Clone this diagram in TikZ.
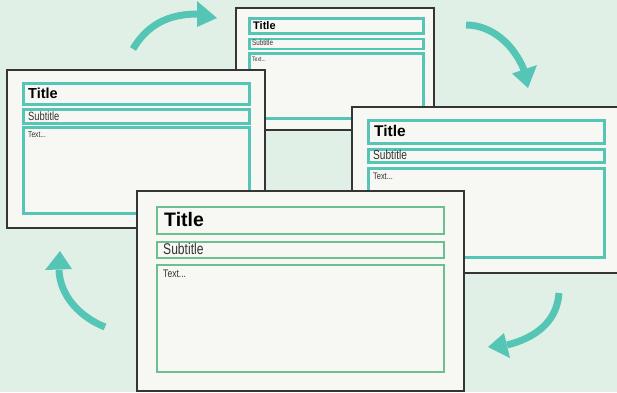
\documentclass[tikz,border=0pt]{standalone}
\usepackage{fontspec}
\setmainfont{Liberation Sans}
\newfontfamily\condfont[FakeStretch=0.78]{Liberation Sans}
\definecolor{bgmint}{HTML}{E1F0E6}
\definecolor{cardfill}{HTML}{F7F7F3}
\definecolor{cardline}{HTML}{353535}
\definecolor{tealc}{HTML}{55C6B5}
\definecolor{greenc}{HTML}{6CBF8E}
\tikzset{
  card/.style={draw=cardline, fill=cardfill, line width=2pt, inner sep=0pt},
  tealbox/.style={draw=tealc, line width=2.5pt, inner sep=0pt},
  greenbox/.style={draw=greenc, line width=2.8pt, inner sep=0pt},
  ttl/.style={anchor=base west, inner sep=0pt, font=\bfseries},
  sub/.style={anchor=base west, inner sep=0pt, text=black!80, font=\condfont},
  cyc/.style={draw=tealc, line width=7pt},
  head/.style={fill=tealc},
}
\newcommand\rbox[6]{\node[#6, anchor=north west, minimum width={(#4)-(#2)}, minimum height={(#5)-(#3)}] (#1) at (#2,#3) {};}
\begin{document}
\begin{tikzpicture}[x=1pt,y=-1pt]
\fill[bgmint] (0,0) rectangle (617,392);
\useasboundingbox (0,0) rectangle (617,392);
% card 1 (back, top)
\rbox{c1}{235}{7}{433}{129}{card}
\rbox{c1t}{248}{17}{422}{32}{tealbox}
\rbox{c1s}{248}{37.5}{422}{47.5}{tealbox}
\rbox{c1x}{248}{52}{422}{117}{tealbox}
\node[ttl, font=\fontsize{11}{13}\selectfont\bfseries] (c1tt) at (253,29) {Title};
\node[sub, font=\fontsize{8}{9}\condfont] (c1st) at (252,45.5) {Subtitle};
\node[sub, font=\fontsize{6.5}{7}\condfont] (c1xt) at (252,61) {Text...};
% card 2 (left)
\rbox{c2}{6}{69}{264}{227}{card}
\rbox{c2t}{22}{82}{248}{103}{tealbox}
\rbox{c2s}{22}{108}{248}{122}{tealbox}
\rbox{c2x}{22}{126}{248}{212}{tealbox}
\node[ttl, font=\fontsize{14.5}{16}\selectfont\bfseries] (c2tt) at (28,98) {Title};
\node[sub, font=\fontsize{12}{13}\condfont] (c2st) at (28,120) {Subtitle};
\node[sub, font=\fontsize{8.5}{9}\condfont] (c2xt) at (28,137) {Text...};
% card 3 (right)
\rbox{c3}{351}{106}{630}{272}{card}
\rbox{c3t}{367}{119}{603}{142}{tealbox}
\rbox{c3s}{367}{148}{603}{161}{tealbox}
\rbox{c3x}{367}{167}{603}{256}{tealbox}
\node[ttl, font=\fontsize{15.5}{17}\selectfont\bfseries] (c3tt) at (374,136) {Title};
\node[sub, font=\fontsize{13}{14}\condfont] (c3st) at (373,159) {Subtitle};
\node[sub, font=\fontsize{9.5}{10}\condfont] (c3xt) at (373,179) {Text...};
% card 4 (front)
\rbox{c4}{136}{190}{463}{390}{card}
\rbox{c4t}{155.5}{205.5}{442.5}{232.5}{greenbox}
\rbox{c4s}{155.5}{240.5}{442.5}{256.5}{greenbox}
\rbox{c4x}{155.5}{263.5}{442.5}{370.5}{greenbox}
\node[ttl, font=\fontsize{19.5}{22}\selectfont\bfseries] (c4tt) at (164,226) {Title};
\node[sub, font=\fontsize{15.5}{17}\condfont] (c4st) at (163,254) {Subtitle};
\node[sub, font=\fontsize{11}{12}\condfont] (c4xt) at (163,277) {Text...};
% cycle arrows
\coordinate (a1s) at (133,49); \coordinate (a1b) at (198,14);
\coordinate (a2s) at (466,25); \coordinate (a2b) at (524,70);
\coordinate (a3s) at (559,293); \coordinate (a3b) at (507,345);
\coordinate (a4s) at (105,327); \coordinate (a4b) at (59,270);
\draw[cyc] (a1s) .. controls (150,20) and (175,14) .. (a1b);
\fill[head] (197,1) -- (217,18) -- (197,27) -- cycle;
\draw[cyc] (a2s) .. controls (492,25) and (514,45) .. (a2b);
\fill[head] (512,73.5) -- (528,88) -- (537,65) -- cycle;
\draw[cyc] (a3s) .. controls (557,322) and (535,338) .. (a3b);
\fill[head] (504,333) -- (488,347) -- (510,358) -- cycle;
\draw[cyc] (a4s) .. controls (80,317) and (60,296) .. (a4b);
\fill[head] (45,270) -- (60,251) -- (72,269) -- cycle;
\end{tikzpicture}
\end{document}
